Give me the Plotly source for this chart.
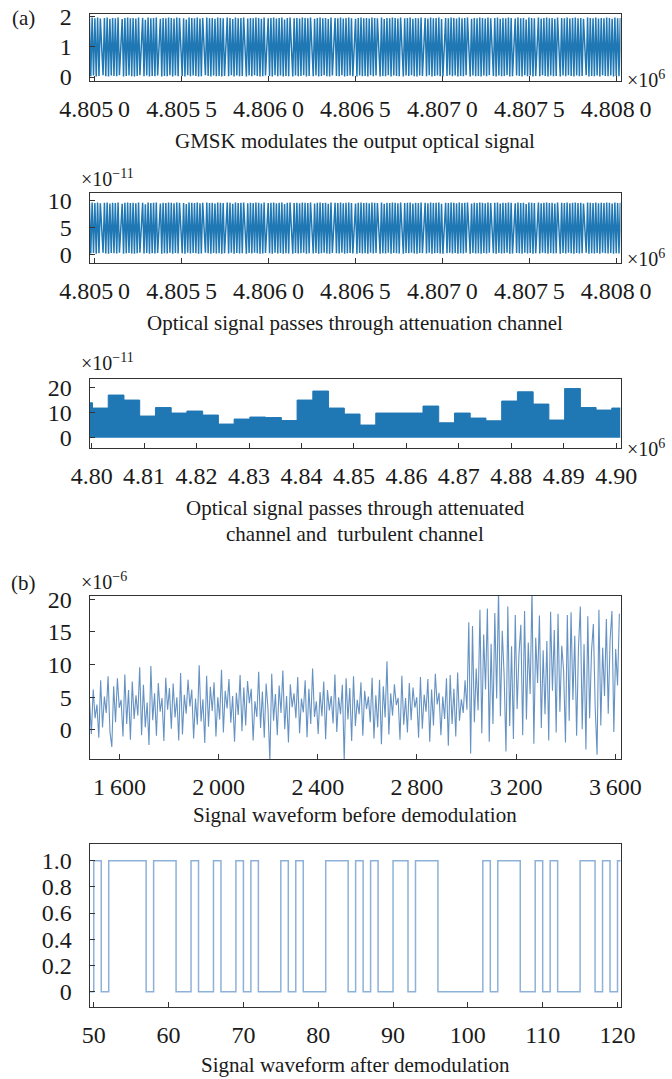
import plotly.graph_objects as go

W, H = 672, 1079
FONT = "Liberation Serif"
INK = "#1a1a1a"
AXIS = "#333333"
BLUE = "#1f77b4"
TICK_SIZE = 24
CAP_SIZE = 21
TS = "\u2009"  # thin space used for digit grouping

# ---------------- (a) GMSK output: one peak / trough per carrier cycle -------------
carrier_t0 = 4804970.0
carrier_dt = 7.85
carrier_peaks = [
    1.96, 1.97, 1.95, 1.97, 1.94, 1.96, 1.97, 1.93, 1.96, 1.95, 1.97, 1.92, 1.96, 1.97, 1.95, 1.96, 1.94, 1.97, 1.96, 1.90, 1.97, 1.95, 1.96,
    1.97, 1.93, 1.96, 1.95, 1.97, 1.96, 1.94, 1.97, 1.96, 1.95, 1.91, 1.97, 1.96, 1.95, 1.97, 1.94, 1.96, 1.97, 1.95, 1.96, 1.93, 1.97, 1.96,
    1.95, 1.97, 1.96, 1.92, 1.97, 1.95, 1.96, 1.97, 1.94, 1.96, 1.95, 1.97, 1.96, 1.93, 1.97, 1.95, 1.96, 1.97, 1.94, 1.96, 1.97, 1.91, 1.96,
    1.97, 1.95, 1.96, 1.94, 1.97, 1.96, 1.95, 1.97, 1.93, 1.96, 1.97, 1.95, 1.96, 1.92, 1.97, 1.96, 1.95, 1.97, 1.94, 1.96, 1.97, 1.95, 1.93,
    1.96, 1.97, 1.95, 1.96, 1.94, 1.97, 1.96, 1.95, 1.97, 1.92, 1.96, 1.95, 1.97, 1.96, 1.94, 1.97, 1.95, 1.96, 1.97, 1.93, 1.96, 1.95, 1.97,
    1.96, 1.94, 1.97, 1.95, 1.96, 1.97, 1.92, 1.96, 1.95, 1.97, 1.96, 1.94, 1.97, 1.95, 1.96, 1.97, 1.93, 1.96, 1.95, 1.97, 1.96, 1.94, 1.97,
    1.95, 1.96, 1.97, 1.93, 1.96, 1.95, 1.97, 1.96, 1.94, 1.97, 1.95, 1.96, 1.91, 1.97, 1.96, 1.95, 1.97, 1.94, 1.96, 1.97, 1.95, 1.96, 1.93,
    1.97, 1.96, 1.95, 1.97, 1.94, 1.96, 1.97, 1.95, 1.96, 1.93, 1.97, 1.96, 1.95, 1.97, 1.94, 1.96, 1.95, 1.97, 1.96, 1.93, 1.97, 1.95, 1.96,
]
carrier_troughs = [
    0.03, 0.05, 0.02, 0.04, 0.06, 0.03, 0.02, 0.05, 0.04, 0.03, 0.06, 0.02, 0.04, 0.05, 0.03, 0.02, 0.04, 0.06, 0.03, 0.05, 0.02, 0.04, 0.03,
    0.05, 0.02, 0.04, 0.03, 0.06, 0.02, 0.05, 0.03, 0.04, 0.02, 0.06, 0.03, 0.05, 0.04, 0.02, 0.03, 0.06, 0.04, 0.02, 0.05, 0.03, 0.04, 0.02,
    0.04, 0.03, 0.06, 0.02, 0.05, 0.03, 0.04, 0.02, 0.05, 0.03, 0.06, 0.04, 0.02, 0.03, 0.05, 0.04, 0.02, 0.06, 0.03, 0.05, 0.02, 0.04, 0.03,
    0.02, 0.05, 0.03, 0.04, 0.06, 0.02, 0.04, 0.03, 0.05, 0.02, 0.04, 0.06, 0.03, 0.02, 0.05, 0.04, 0.03, 0.06, 0.02, 0.04, 0.05, 0.03, 0.02,
    0.05, 0.03, 0.04, 0.02, 0.06, 0.03, 0.05, 0.02, 0.04, 0.03, 0.06, 0.02, 0.05, 0.04, 0.03, 0.02, 0.05, 0.04, 0.06, 0.03, 0.02, 0.05, 0.04,
    0.03, 0.06, 0.02, 0.04, 0.05, 0.03, 0.02, 0.04, 0.06, 0.03, 0.05, 0.02, 0.04, 0.03, 0.06, 0.02, 0.05, 0.03, 0.04, 0.02, 0.05, 0.03, 0.06,
    0.04, 0.02, 0.05, 0.03, 0.04, 0.06, 0.02, 0.03, 0.05, 0.04, 0.02, 0.06, 0.03, 0.05, 0.02, 0.04, 0.03, 0.06, 0.04, 0.02, 0.05, 0.03, 0.04,
    0.02, 0.05, 0.03, 0.06, 0.04, 0.02, 0.05, 0.03, 0.04, 0.06, 0.02, 0.04, 0.03, 0.05, 0.02, 0.06, 0.04, 0.03, 0.05, 0.02, 0.04, 0.03, 0.05,
]
# transitions where the carrier phase advances slowly (half-period spans two samples)
carrier_slow = [8, 21, 35, 47, 62, 78, 93, 106, 121, 138, 152, 167, 181, 198, 214, 229, 243, 260, 276, 291, 307, 322, 340]
# attenuation channel gain, in units of 1e-11
atten_gain = 4.9

# ---------------- (a) bottom: attenuation + turbulence, block fading -------------
turb_edges = [4799600, 4800160, 4803160, 4806160, 4809160, 4812160, 4815160, 4818160, 4821160,
              4824160, 4827160, 4830160, 4833160, 4836160, 4839160, 4842160, 4845160, 4848160,
              4851160, 4854160, 4857160, 4860160, 4863160, 4866160, 4869160, 4872160, 4875160,
              4878160, 4881160, 4884160, 4887160, 4890160, 4893160, 4896160, 4899160]
turb_levels = [14.0, 11.9, 17.1, 15.1, 8.7, 12.1, 9.9, 10.7, 9.1, 5.5, 7.5, 8.3, 8.1, 6.9,
               15.1, 18.7, 11.9, 9.5, 5.1, 9.9, 9.9, 9.9, 12.7, 6.0, 9.9, 7.9, 6.8, 14.7,
               18.4, 13.5, 7.1, 19.7, 12.1, 11.1, 11.9]
turb_end = 4900810

# ---------------- (b) received signal before demodulation (x1e-6) -------------
rx_t0 = 1479
rx_dt = 7.5
rx_low = [
    4.5, -0.6, 6.2, 1.8, 3.9, -1.2, 7.6, 0.4, 5.1, 2.6, 8.2, -0.3,
    -2.6, 6.7, 1.2, 7.9, 3.4, 4.6, -1.0, 8.5, 0.9, 6.1, -1.5, 7.4,
    1.7, 5.3, 2.2, 9.6, -0.8, 6.9, 0.4, 4.2, -2.3, 9.8, 1.5, 5.6,
    -0.9, 7.2, 2.8, 4.9, -1.7, 8.0, 3.1, 6.4, 0.2, 7.1, 1.9, 5.0,
    -1.6, 8.7, -0.7, 5.4, 2.5, 7.7, 3.6, 6.2, -1.3, 4.8, 0.8, 9.9,
    1.3, 4.7, -2.0, 8.3, 0.5, 6.6, 2.9, 7.3, -1.0, 5.0, 1.6, 9.2,
    -0.4, 6.0, 3.3, 7.8, 1.1, 5.2, -1.8, 5.7, 2.3, 8.4, -0.2, 6.5,
    0.7, 7.5, 4.1, 6.3, -1.6, 4.4, 2.0, 8.9, 0.3, 5.9, -1.2, 7.1,
    3.2, -4.8, 8.6, 1.4, 5.5, -0.8, 6.8, 2.6, 9.1, 0.1, 5.2, -1.9,
    7.0, 3.5, 5.6, 1.8, 8.1, -0.5, 4.8, 2.7, 7.6, -1.1, 6.3, 0.9,
    9.4, 2.0, 4.4, -0.6, 5.8, 2.1, 7.4, -1.4, 6.1, 3.0, 5.2, 1.0,
    8.5, -0.3, 5.0, 2.4, 6.9, -4.8, 7.9, 1.6, 6.4, -1.7, 8.2, 0.6,
    4.6, 2.4, 7.3, -0.9, 6.0, 3.2, 5.1, 1.2, 8.0, -1.3, 5.3, 0.4,
    7.7, -2.2, 6.7, 1.9, 10.5, -0.7, 5.6, 2.2, 7.0, 3.8, 4.9, -1.5,
    8.3, 0.8, 4.9, -0.4, 7.2, 1.5, 6.5, 3.4, 5.0, -1.2, 8.1, 0.2,
    5.4, 2.8, 7.8, -1.8, 6.2, 0.7, 8.6, 3.9, 5.7, -0.8, 5.1, 1.7,
    7.9, -2.4, 8.4, 0.9, 6.3, -1.0, 8.8, 1.4, 4.7, 2.6, 7.6, 3.1,
]
rx_high = [
    16.5, -3.6, 15.9, 1.2, 9.4, 3.0, 18.4, -0.5, 14.6, 6.2, 18.6, -1.8,
    13.2, 0.9, 17.9, 4.8, 21.5, 2.1, 15.2, 8.4, -3.3, 18.9, 0.6, 12.8,
    -1.4, 17.6, 3.2, 11.6, 16.1, -0.8, 18.2, 1.6, 13.4, 5.5, 21.5, -2.1,
    14.1, 7.2, 17.5, 0.3, 12.2, 2.4, 13.6, -1.6, 18.1, 6.0, 15.3, -0.4,
    17.8, 2.8, 12.9, 9.1, -1.9, 17.6, 1.4, 18.0, 4.6, 14.4, -0.9, 12.6,
    18.9, 0.1, 13.1, -3.0, 17.4, 1.8, 12.0, 16.2, 3.4, -3.8, 18.4, 0.7,
    12.6, 5.2, 17.0, 2.5, 13.8, 18.2, -0.3, 12.4, 6.8, 17.8,
]

# ---------------- (b) demodulated bit stream -------------
bit_start = 49
bits = [0, 1, 0, 1, 1, 1, 1, 1,
        0, 1, 1, 1,
        0, 0, 1, 0, 0,
        1, 0, 0, 1, 0,
        1, 0, 0, 0,
        1, 0, 1, 0, 0, 0,
        1, 1, 1, 0, 1, 0, 1,
        0, 0, 1, 1, 0, 1, 1, 1,
        0, 0, 0, 0, 0, 0,
        1, 0, 1, 1, 1, 0, 0,
        1, 0, 1, 0, 0, 0,
        1, 1, 0, 1, 0, 1]

# ---------------- tick labels -------------
tx_a = [4805000, 4805500, 4806000, 4806500, 4807000, 4807500, 4808000]
tl_a = ["4.805" + TS + "0", "4.805" + TS + "5", "4.806" + TS + "0", "4.806" + TS + "5",
        "4.807" + TS + "0", "4.807" + TS + "5", "4.808" + TS + "0"]
tx_turb = [4800000, 4810000, 4820000, 4830000, 4840000, 4850000, 4860000, 4870000, 4880000, 4890000, 4900000]
tl_turb = ["4.80", "4.81", "4.82", "4.83", "4.84", "4.85", "4.86", "4.87", "4.88", "4.89", "4.90"]
tx_rx = [1600, 2000, 2400, 2800, 3200, 3600]
tl_rx = ["1" + TS + "600", "2" + TS + "000", "2" + TS + "400", "2" + TS + "800", "3" + TS + "200", "3" + TS + "600"]
tx_bit = [50, 60, 70, 80, 90, 100, 110, 120]
ty_bit = [0, 0.2, 0.4, 0.6, 0.8, 1.0]
tl_bit = ["0", "0.2", "0.4", "0.6", "0.8", "1.0"]

# ---------------- build the traces -------------
levels = []
for p, t in zip(carrier_peaks, carrier_troughs):
    levels += [p, t]
steps = [0]
for k in range(1, len(levels)):
    steps.append(steps[-1] + (2 if (k - 1) in carrier_slow else 1))
carrier_x = [carrier_t0 + carrier_dt * s for s in steps]
atten_levels = [v * atten_gain for v in levels]

rx_vals = rx_low + rx_high
rx_x = [rx_t0 + rx_dt * i for i in range(len(rx_vals))]

bit_x = [bit_start + i for i in range(len(bits))] + [bit_start + len(bits)]
bit_y = bits + [bits[-1]]

fig = go.Figure()
fig.add_trace(go.Scatter(x=carrier_x, y=levels, mode="lines",
                         line=dict(color=BLUE, width=1.5), xaxis="x", yaxis="y"))
fig.add_trace(go.Scatter(x=carrier_x, y=atten_levels, mode="lines",
                         line=dict(color=BLUE, width=1.5), xaxis="x2", yaxis="y2"))
fig.add_trace(go.Scatter(x=turb_edges + [turb_end], y=turb_levels + [turb_levels[-1]],
                         mode="lines", line=dict(color=BLUE, width=1, shape="hv"),
                         fill="tozeroy", fillcolor=BLUE, xaxis="x3", yaxis="y3"))
fig.add_trace(go.Scatter(x=rx_x, y=rx_vals, mode="lines",
                         line=dict(color="rgba(35,100,168,0.7)", width=1.1), xaxis="x4", yaxis="y4"))
fig.add_trace(go.Scatter(x=bit_x, y=bit_y, mode="lines",
                         line=dict(color="#8db1d8", width=1.5, shape="hv"), xaxis="x5", yaxis="y5"))

# ---------------- layout -------------
LEFT, RIGHT = 89.5, 620.5


def ydom(top, bottom):
    return [1 - bottom / H, 1 - top / H]


def axis_common():
    return dict(ticks="inside", ticklen=5, tickwidth=1, tickcolor=AXIS,
                showline=True, linecolor=AXIS, linewidth=1, mirror=True,
                showgrid=False, zeroline=False, automargin=False,
                tickfont=dict(family=FONT, size=TICK_SIZE, color=INK))


def xaxis(anchor, rng, tv, tt):
    d = axis_common()
    d.update(domain=[LEFT / W, RIGHT / W], anchor=anchor, range=rng,
             tickmode="array", tickvals=tv, ticktext=tt, ticklabelstandoff=6)
    return d


def yaxis(anchor, dom, rng, tv, tt=None):
    d = axis_common()
    d.update(domain=dom, anchor=anchor, range=rng, tickmode="array", tickvals=tv,
             ticklabelstandoff=12)
    if tt is not None:
        d["ticktext"] = tt
    return d


layout = dict(
    width=W, height=H, margin=dict(l=0, r=0, t=0, b=0, autoexpand=False),
    paper_bgcolor="white", plot_bgcolor="white", showlegend=False,
    xaxis=xaxis("y", [4804970.5, 4808024.6], tx_a, tl_a),
    yaxis=yaxis("x", ydom(14, 81), [-0.13, 2.09], [0, 1, 2]),
    xaxis2=xaxis("y2", [4804970.5, 4808024.6], tx_a, tl_a),
    yaxis2=yaxis("x2", ydom(193.3, 263.3), [-1.68, 11.38], [0, 5, 10]),
    xaxis3=xaxis("y3", [4799590, 4900810], tx_turb, tl_turb),
    yaxis3=yaxis("x3", ydom(379.3, 448.3), [-4.2, 23.4], [0, 10, 20]),
    xaxis4=xaxis("y4", [1479, 3621], tx_rx, tl_rx),
    yaxis4=yaxis("x4", ydom(595.7, 759.3), [-4.49, 20.55], [0, 5, 10, 15, 20]),
    xaxis5=xaxis("y5", [49.43, 120.4], tx_bit, [str(v) for v in tx_bit]),
    yaxis5=yaxis("x5", ydom(844, 1007.3), [-0.119, 1.127], ty_bit, tl_bit),
)
fig.update_layout(**layout)


def note(text, px, py, size, xanchor="center"):
    fig.add_annotation(text=text, x=px / W, y=1 - py / H, xref="paper", yref="paper",
                       xanchor=xanchor, yanchor="middle", showarrow=False,
                       font=dict(family=FONT, size=size, color=INK))


# captions
note("GMSK modulates the output optical signal", 355, 141, CAP_SIZE)
note("Optical signal passes through attenuation channel", 355, 323, CAP_SIZE)
note("Optical signal passes through attenuated", 355, 508, CAP_SIZE)
note("channel and  turbulent channel", 355, 534, CAP_SIZE)
note("Signal waveform before demodulation", 355, 815, CAP_SIZE)
note("Signal waveform after demodulation", 355, 1065, CAP_SIZE)

# panel labels
note("(a)", 10, 18, CAP_SIZE, "left")
note("(b)", 9, 583, CAP_SIZE, "left")

# axis exponents (kept inside the right edge)
note("×10<sup>6</sup>", 625, 79, 20, "left")
note("×10<sup>6</sup>", 625, 258, 20, "left")
note("×10<sup>6</sup>", 625, 448, 20, "left")
note("×10<sup>−11</sup>", 79, 178, 20, "left")
note("×10<sup>−11</sup>", 79, 362, 20, "left")
note("×10<sup>−6</sup>", 79, 581, 20, "left")

fig.write_html("out.html")
